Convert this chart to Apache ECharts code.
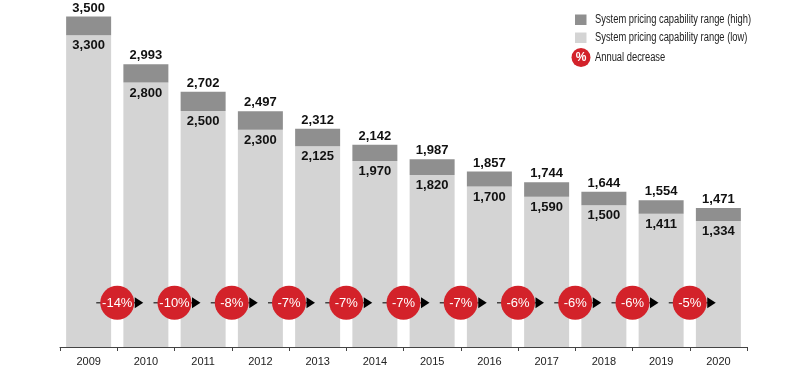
<!DOCTYPE html>
<html>
<head>
<meta charset="utf-8">
<script src="https://cdn.jsdelivr.net/npm/echarts@6/dist/echarts.min.js"></script>
<style>
html,body{margin:0;padding:0;background:#fff;}
#chart{width:800px;height:383px;}
</style>
</head>
<body>
<div id="chart"></div>
<script>
var years = ['2009','2010','2011','2012','2013','2014','2015','2016','2017','2018','2019','2020'];
var highValues = [3500, 2993, 2702, 2497, 2312, 2142, 1987, 1857, 1744, 1644, 1554, 1471];
var lowValues = [3300, 2800, 2500, 2300, 2125, 1970, 1820, 1700, 1590, 1500, 1411, 1334];
var decreases = ['-14%','-10%','-8%','-7%','-7%','-7%','-7%','-6%','-6%','-6%','-5%'];
var legendNames = ['System pricing capability range (high)', 'System pricing capability range (low)', 'Annual decrease'];

var FONT = '"Liberation Sans", Arial, Helvetica, sans-serif';
var fmt = function (v) { return v.toLocaleString('en-US'); };
var COLOR_HIGH = '#8f8f8f', COLOR_LOW = '#d4d4d4', COLOR_RED = '#d3222a';

var chart = echarts.init(document.getElementById('chart'), null, {renderer: 'canvas'});

var decreaseData = decreases.map(function (d, i) { return [i + 1, 0.13, d]; });
var diffValues = highValues.map(function (h, i) { return h - lowValues[i]; });

var option = {
  animation: false,
  backgroundColor: '#ffffff',
  grid: {left: 60, right: 53, top: 7, bottom: 36},
  graphic: [
    {type: 'rect', shape: {x: 575, y: 14.5, width: 11.5, height: 10.5}, style: {fill: COLOR_HIGH}},
    {type: 'text', x: 595, y: 20, scaleX: 0.78, style: {text: legendNames[0], fill: '#222', font: '12px ' + FONT, verticalAlign: 'middle'}},
    {type: 'rect', shape: {x: 575, y: 32.5, width: 11.5, height: 10.5}, style: {fill: COLOR_LOW}},
    {type: 'text', x: 595, y: 38, scaleX: 0.78, style: {text: legendNames[1], fill: '#222', font: '12px ' + FONT, verticalAlign: 'middle'}},
    {type: 'circle', shape: {cx: 581, cy: 57.5, r: 9.5}, style: {fill: COLOR_RED}},
    {type: 'text', x: 581, y: 58, style: {text: '%', fill: '#fff', font: 'bold 12px ' + FONT, align: 'center', verticalAlign: 'middle'}},
    {type: 'text', x: 595, y: 57.5, scaleX: 0.78, style: {text: legendNames[2], fill: '#222', font: '12px ' + FONT, verticalAlign: 'middle'}}
  ],
  xAxis: [
    {
      type: 'category', data: years,
      axisLine: {lineStyle: {color: '#444', width: 1}},
      axisTick: {show: true, length: 4, lineStyle: {color: '#444'}},
      axisLabel: {fontFamily: FONT, fontSize: 11, color: '#222', margin: 9}
    },
    {type: 'value', min: 0, max: 12, show: false}
  ],
  yAxis: [
    {type: 'value', min: 0, max: 3600, show: false},
    {type: 'value', min: 0, max: 1, show: false}
  ],
  series: [
    {
      name: legendNames[1], type: 'bar', stack: 'a',
      barWidth: 45, data: lowValues,
      itemStyle: {color: COLOR_LOW},
      label: {show: true, position: 'insideTop', distance: 4, color: '#111',
        fontFamily: FONT, fontWeight: 'bold', fontSize: 13,
        formatter: function (p) { return fmt(lowValues[p.dataIndex]); }}
    },
    {
      name: legendNames[0], type: 'bar', stack: 'a',
      barWidth: 45, data: diffValues,
      itemStyle: {color: COLOR_HIGH},
      label: {show: true, position: 'top', distance: 2, color: '#111',
        fontFamily: FONT, fontWeight: 'bold', fontSize: 13,
        formatter: function (p) { return fmt(highValues[p.dataIndex]); }}
    },
    {
      name: legendNames[2], type: 'custom', xAxisIndex: 1, yAxisIndex: 1,
      data: decreaseData, z: 10,
      renderItem: function (params, api) {
        var c = api.coord([api.value(0), api.value(1)]);
        var x = c[0], y = c[1];
        return {
          type: 'group',
          children: [
            {type: 'line', shape: {x1: x - 21, y1: y, x2: x + 18, y2: y}, style: {stroke: '#444', lineWidth: 1.5}},
            {type: 'polygon', shape: {points: [[x + 17.5, y - 5.5], [x + 26, y], [x + 17.5, y + 5.5]]}, style: {fill: '#000'}},
            {type: 'circle', shape: {cx: x, cy: y, r: 17}, style: {fill: COLOR_RED}},
            {type: 'text', x: x, y: y + 0.5, style: {text: decreaseData[params.dataIndex][2], fill: '#fff',
              font: '13px ' + FONT, align: 'center', verticalAlign: 'middle'}}
          ]
        };
      }
    }
  ]
};
chart.setOption(option);
</script>
</body>
</html>
